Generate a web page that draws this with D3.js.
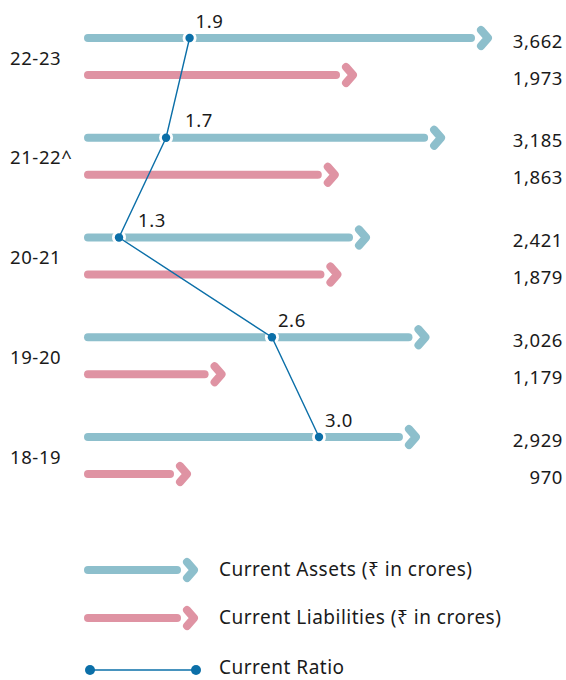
<!DOCTYPE html>
<html><head><meta charset="utf-8">
<script src="https://cdn.jsdelivr.net/npm/d3@7"></script>
<style>
html,body{margin:0;padding:0;background:#fff;}
text{font-family:"Noto Sans","DejaVu Sans",sans-serif;fill:#1a1a1a;letter-spacing:0.6px;}
</style></head>
<body>
<svg id="c" width="566" height="680"></svg>
<script>
const years = ["22-23","21-22^","20-21","19-20","18-19"];
const currentAssets = [3662,3185,2421,3026,2929];
const currentLiabilities = [1973,1863,1879,1179,970];
const currentRatio = [1.9,1.7,1.3,2.6,3.0];
const legendLabels = ["Current Assets (₹ in crores)","Current Liabilities (₹ in crores)","Current Ratio"];

const assetColor = "#8dbfcc", liabColor = "#df93a3", ratioColor = "#0b6fa8";
const svg = d3.select("#c");
const fmt = d3.format(",");

const y = d3.scalePoint().domain(years).range([38, 437]);
const liabOffset = 37;
// bar-tip scales (separate per series, as in the source graphic)
const xA = d3.scaleLinear().domain([2421, 3662]).range([370, 492]);
const xL = d3.scaleLinear().domain([970, 1973]).range([191, 357]);
const xR = d3.scaleLinear().domain([1.3, 3.0]).range([119, 319]);
const x0 = 88, sw = 8;

function arrow(g, tip, yy, color){
  const apex = tip - 4;
  g.append("line").attr("x1", x0).attr("x2", apex - 17).attr("y1", yy).attr("y2", yy)
    .attr("stroke", color).attr("stroke-width", sw).attr("stroke-linecap","round");
  g.append("path").attr("d", `M${apex-7},${yy-8}L${apex},${yy}L${apex-7},${yy+8}`)
    .attr("fill","none").attr("stroke", color).attr("stroke-width", sw)
    .attr("stroke-linecap","round").attr("stroke-linejoin","round");
}

const bars = svg.append("g");
years.forEach((yr, i) => {
  arrow(bars, xA(currentAssets[i]), y(yr), assetColor);
  arrow(bars, xL(currentLiabilities[i]), y(yr) + liabOffset, liabColor);
});

// year labels
svg.append("g").selectAll("text").data(years).join("text")
  .attr("x", 10).attr("y", d => y(d) + 19).attr("dominant-baseline","central")
  .attr("font-size", 18.5).text(d => d);

// value labels
svg.append("g").selectAll("text").data(years).join("text")
  .attr("x", 563).attr("y", d => y(d) + 2).attr("text-anchor","end")
  .attr("dominant-baseline","central").attr("font-size", 18.5)
  .text((d,i) => fmt(currentAssets[i]));
svg.append("g").selectAll("text").data(years).join("text")
  .attr("x", 563).attr("y", d => y(d) + liabOffset + 2).attr("text-anchor","end")
  .attr("dominant-baseline","central").attr("font-size", 18.5)
  .text((d,i) => fmt(currentLiabilities[i]));

// ratio
const pts = years.map((yr, i) => [xR(currentRatio[i]), y(yr)]);
svg.append("g").selectAll("circle").data(pts).join("circle")
  .attr("cx", d => d[0]).attr("cy", d => d[1]).attr("r", 7).attr("fill", "#fff");
svg.append("path").attr("d", d3.line()(pts)).attr("fill","none")
  .attr("stroke", ratioColor).attr("stroke-width", 1.4);
svg.append("g").selectAll("circle").data(pts).join("circle")
  .attr("cx", d => d[0]).attr("cy", d => d[1]).attr("r", 4.2).attr("fill", ratioColor);
svg.append("g").selectAll("text").data(pts).join("text")
  .attr("x", (d,i) => d[0] + (i > 0 && pts[i-1][0] > d[0] ? 19 : 6))
  .attr("y", d => d[1] - 18).attr("dominant-baseline","central")
  .attr("font-size", 18.5).text((d,i) => currentRatio[i].toFixed(1));

// legend
const lg = svg.append("g");
const ly = [570, 618, 670];
arrow(lg, 198, ly[0], assetColor);
arrow(lg, 198, ly[1], liabColor);
lg.append("line").attr("x1", 90).attr("x2", 196).attr("y1", ly[2]).attr("y2", ly[2])
  .attr("stroke", ratioColor).attr("stroke-width", 1.4);
[90,196].forEach(cx => lg.append("circle").attr("cx", cx).attr("cy", ly[2]).attr("r", 5).attr("fill", ratioColor));
legendLabels.forEach((t, i) => lg.append("text").attr("x", 219).attr("y", ly[i] - (i === 2 ? 3 : 1))
  .attr("dominant-baseline","central").attr("font-size", 19).style("letter-spacing","0.5px").text(t));
</script>
</body></html>
